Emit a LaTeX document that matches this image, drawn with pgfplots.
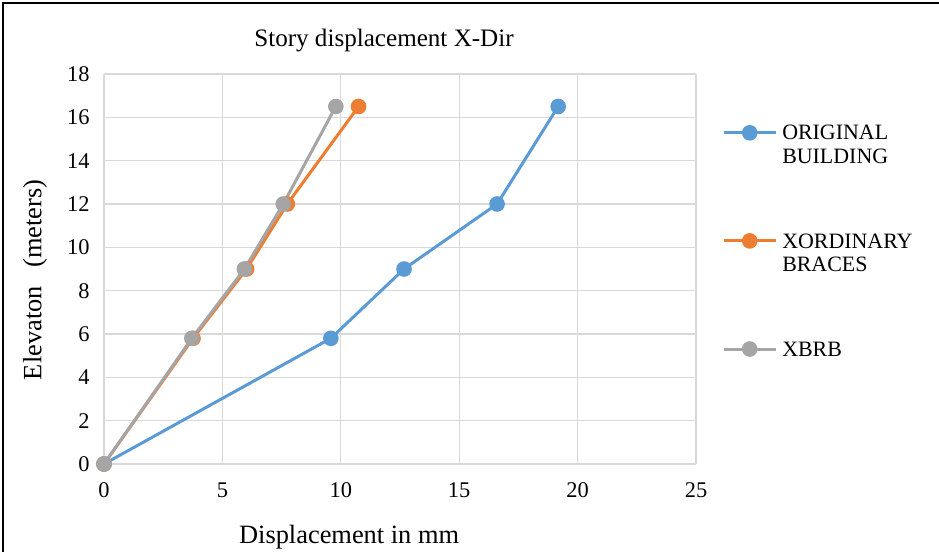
\documentclass[border=0pt]{standalone}
\usepackage{fontspec}
\setmainfont{Liberation Serif}
\usepackage{pgfplots}
\pgfplotsset{compat=1.18}
\definecolor{cBlue}{HTML}{5B9BD5}
\definecolor{cOrange}{HTML}{ED7D31}
\definecolor{cGray}{HTML}{A5A5A5}
\definecolor{cGrid}{HTML}{D9D9D9}
\begin{document}
\begin{tikzpicture}
\useasboundingbox (-104bp,-88bp) rectangle (835bp,464bp);
\draw[line width=1.8bp] (-101bp,-120bp) -- (-101bp,461bp) -- (860bp,461bp);
\begin{axis}[
  at={(0,0)}, anchor=south west,
  width=592bp, height=390bp, scale only axis,
  xmin=0, xmax=25, ymin=0, ymax=18,
  xtick={0,5,...,25}, ytick={0,2,...,18},
  xticklabels={0,5,10,15,20,25},
  yticklabels={0,2,4,6,8,10,12,14,16,18},
  grid=major, grid style={cGrid, line width=1.3bp},
  axis line style={draw=none},
  major tick length=0pt,
  clip=false,
  tick label style={font=\fontsize{22.5}{24}\selectfont},
  xticklabel style={yshift=-15bp},
  yticklabel style={xshift=-11bp},
  title={Story displacement X-Dir},
  title style={font=\fontsize{25.2}{27}\selectfont, at={(0.473,1.0560)}, anchor=base},
  xlabel={Displacement in mm},
  xlabel style={font=\fontsize{26.5}{28}\selectfont, at={(0.414,-0.2026)}, anchor=base},
  ylabel={Elevaton\hspace{0.7em}(meters)},
  ylabel style={font=\fontsize{26.5}{28}\selectfont, at={(-0.1166,0.472)}, anchor=center},
  legend style={at={(1.044,0.869)}, anchor=north west, draw=none, fill=none,
    font=\fontsize{22}{23.5}\selectfont, inner sep=0pt, row sep=68.5bp, column sep=5bp,
    nodes={inner sep=0pt, align=left}, cells={anchor=north west}},
  legend image code/.code={\draw[#1,mark repeat=2,mark phase=2] plot coordinates {(0bp,-7.5bp)(26bp,-7.5bp)(52bp,-7.5bp)};},
  every axis plot/.append style={line width=3bp, mark=*, mark size=6.3bp},
]
\addplot[cBlue, mark options={fill=cBlue, draw=cBlue, solid}] coordinates {(0,0) (9.58,5.8) (12.67,9) (16.6,12) (19.18,16.5)};
\addlegendentry{ORIGINAL\\BUILDING}
\addplot[cOrange, mark options={fill=cOrange, draw=cOrange, solid}] coordinates {(0,0) (3.76,5.8) (6.02,9) (7.74,12) (10.75,16.5)};
\addlegendentry{XORDINARY\\BRACES}
\addplot[cGray, mark options={fill=cGray, draw=cGray, solid}] coordinates {(0,0) (3.71,5.8) (5.93,9) (7.57,12) (9.79,16.5)};
\addlegendentry{XBRB}
\end{axis}
\end{tikzpicture}
\end{document}
